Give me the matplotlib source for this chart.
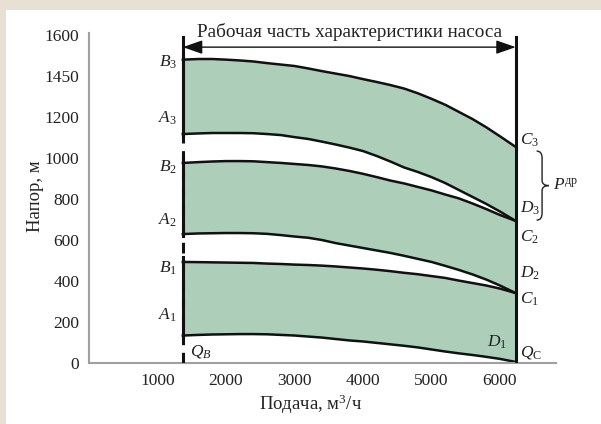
import matplotlib.pyplot as plt
from matplotlib.patches import Rectangle, PathPatch
from matplotlib.path import Path

plt.rcParams['font.family'] = ['Liberation Serif', 'DejaVu Serif']
plt.rcParams['mathtext.fontset'] = 'custom'
plt.rcParams['mathtext.rm'] = 'Liberation Serif'
plt.rcParams['mathtext.it'] = 'Liberation Serif:italic'

# flow, m3/h (Q_B .. Q_C)
flow = [1370, 1600, 1800, 2000, 2200, 2400, 2600, 2800, 3000, 3200, 3400, 3600, 3800,
        4000, 4200, 4400, 4600, 4800, 5000, 5200, 5400, 5600, 5800, 6000, 6230]

# head curves bounding each working band
band1_low = [134, 137, 139, 140, 141, 141, 140, 137, 134, 129, 124, 117, 110,
             105, 98, 91, 84, 76, 66, 56, 47, 39, 30, 20, 5]
band1_high = [493, 492, 491, 490, 489, 488, 485, 483, 480, 478, 475, 471, 466,
              461, 455, 448, 440, 433, 424, 415, 402, 390, 378, 363, 341]
band2_low = [629, 632, 633, 634, 634, 633, 630, 624, 617, 611, 600, 585, 573,
             561, 549, 537, 523, 508, 493, 474, 454, 432, 407, 378, 341]
band2_high = [976, 980, 983, 985, 985, 984, 980, 976, 971, 966, 959, 949, 937,
              923, 907, 890, 876, 859, 842, 822, 803, 778, 751, 722, 693]
band3_low = [1117, 1120, 1122, 1122, 1122, 1121, 1117, 1112, 1102, 1093, 1080, 1066, 1051,
             1034, 1010, 983, 954, 932, 907, 878, 844, 810, 776, 739, 693]
band3_high = [1480, 1483, 1483, 1480, 1476, 1471, 1463, 1456, 1449, 1437, 1424, 1412, 1400,
              1385, 1371, 1356, 1339, 1316, 1289, 1260, 1225, 1190, 1150, 1106, 1054]

bands = [(band1_low, band1_high), (band2_low, band2_high), (band3_low, band3_high)]

y_ticks = [0, 200, 400, 600, 800, 1000, 1200, 1400, 1600]
y_ticklabels = ['0', '200', '400', '600', '800', '1000', '1200', '1450', '1600']
x_ticks = [1000, 2000, 3000, 4000, 5000, 6000]

fill_color = '#ADCFBA'
line_color = '#111111'
text_color = '#222222'

fig = plt.figure(figsize=(6.01, 4.24), dpi=100)
fig.patch.set_facecolor('#E8E1D3')
fig.add_artist(Rectangle((6 / 601, -0.1), 1.1, 0.1 + (424 - 10) / 424,
                         transform=fig.transFigure,
                         facecolor='white', edgecolor='none', zorder=-1))

ax = fig.add_axes([0.1481, 0.1439, 0.777, 0.7783])
ax.set_xlim(0, 6818)
ax.set_ylim(0, 1610)

q_left, q_right = flow[0], flow[-1]
top = 1590

# left boundary: dashed between bands, solid along them
ax.plot([q_left, q_left], [0, band3_low[0]], color=line_color, lw=2.2,
        linestyle=(0, (3.5, 2.5)), zorder=3)
for low, high in bands:
    ax.fill_between(flow, low, high, color=fill_color, lw=0, zorder=1)
    ax.plot(flow, low, color=line_color, lw=1.8, zorder=2, solid_joinstyle='round')
    ax.plot(flow, high, color=line_color, lw=1.8, zorder=2, solid_joinstyle='round')
    ax.plot([q_left, q_left], [low[0] - 8, high[0] + 25], color=line_color, lw=2.2, zorder=3)
ax.plot([q_left, q_left], [band3_low[0], top], color=line_color, lw=2.2, zorder=3)
ax.plot([q_right, q_right], [0, top], color=line_color, lw=2.2, zorder=3)

# working range arrow
ax.annotate('', xy=(q_left, 1541), xytext=(q_right, 1541),
            arrowprops=dict(arrowstyle='<|-|>,head_length=1.2,head_width=0.42',
                            color=line_color, lw=1.0, shrinkA=0, shrinkB=0,
                            mutation_scale=10), zorder=4)
ax.text((q_left + q_right) / 2, 1614, 'Рабочая часть характеристики насоса',
        ha='center', va='center', fontsize=13.8, color=text_color)

# point labels
fs = 12.5
left_labels = [('$B_3$', 1468), ('$A_3$', 1195), ('$B_2$', 956),
               ('$A_2$', 698), ('$B_1$', 463), ('$A_1$', 234)]
for txt, y in left_labels:
    ax.text(1285, y, txt, ha='right', va='center', fontsize=fs, color=text_color)
ax.text(1474, 54, '$Q_B$', ha='left', va='center', fontsize=fs, color=text_color)

right_labels = [('$C_3$', 1088), ('$D_3$', 756), ('$C_2$', 615),
                ('$D_2$', 439), ('$C_1$', 312), ('$Q_{\\mathrm{С}}$', 49)]
for txt, y in right_labels:
    ax.text(6292, y, txt, ha='left', va='center', fontsize=fs, color=text_color,
            clip_on=False)
ax.text(6102, 102, '$D_1$', ha='right', va='center', fontsize=fs, color=text_color)

# brace between C3 and D3
bx, btip = 6615, 6715
by0, by1 = 1034, 697
bmid = (by0 + by1) / 2
bl = 6535
verts = [(bl, by0), (bx, by0), (bx, by0 - 34),
         (bx, bmid + 25),
         (bx, bmid), (btip, bmid),
         (bx, bmid), (bx, bmid - 25),
         (bx, by1 + 34),
         (bx, by1), (bl, by1)]
codes = [Path.MOVETO, Path.CURVE3, Path.CURVE3,
         Path.LINETO,
         Path.CURVE3, Path.CURVE3,
         Path.CURVE3, Path.CURVE3,
         Path.LINETO,
         Path.CURVE3, Path.CURVE3]
ax.add_patch(PathPatch(Path(verts, codes), facecolor='none', edgecolor=text_color,
                       lw=1.0, clip_on=False))
ax.text(6780, bmid, '$P^{\\mathrm{др}}$', ha='left', va='center', fontsize=fs,
        color=text_color, clip_on=False)

# axes styling
for side in ('top', 'right'):
    ax.spines[side].set_visible(False)
for side in ('left', 'bottom'):
    ax.spines[side].set_color('#A0A0A0')
    ax.spines[side].set_linewidth(1.5)
ax.set_yticks(y_ticks)
ax.set_yticklabels(y_ticklabels)
ax.set_xticks(x_ticks)
ax.tick_params(length=0, labelsize=12.5, colors=text_color, pad=7)

fig.text(35 / 601, 1 - 196 / 424, 'Напор, м', rotation=90, ha='center', va='center',
         fontsize=13.5, color=text_color)
fig.text(311 / 601, 1 - 404 / 424, 'Подача, м$^3$/ч', ha='center', va='center',
         fontsize=13.5, color=text_color)

fig.savefig('out.png', dpi=100, facecolor=fig.get_facecolor())
